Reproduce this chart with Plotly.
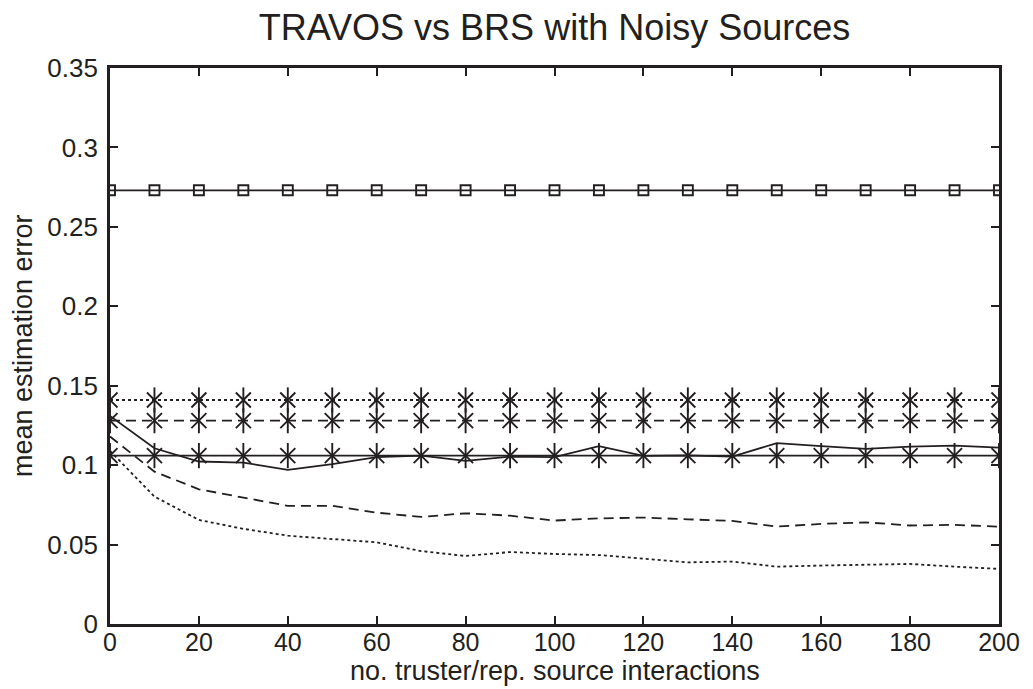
import plotly.graph_objects as go

x_vals = [0, 10, 20, 30, 40, 50, 60, 70, 80, 90, 100, 110, 120, 130, 140, 150, 160, 170, 180, 190, 200]

brs_all = [0.273, 0.273, 0.273, 0.273, 0.273, 0.273, 0.273, 0.273, 0.273, 0.273, 0.273,
           0.273, 0.273, 0.273, 0.273, 0.273, 0.273, 0.273, 0.273, 0.273, 0.273]
brs_dotted = [0.141, 0.141, 0.141, 0.141, 0.141, 0.141, 0.141, 0.141, 0.141, 0.141, 0.141,
              0.141, 0.141, 0.141, 0.141, 0.141, 0.141, 0.141, 0.141, 0.141, 0.141]
brs_dashed = [0.128, 0.128, 0.128, 0.128, 0.128, 0.128, 0.128, 0.128, 0.128, 0.128, 0.128,
              0.128, 0.128, 0.128, 0.128, 0.128, 0.128, 0.128, 0.128, 0.128, 0.128]
brs_solid = [0.106, 0.106, 0.106, 0.106, 0.106, 0.106, 0.106, 0.106, 0.106, 0.106, 0.106,
             0.106, 0.106, 0.106, 0.106, 0.106, 0.106, 0.106, 0.106, 0.106, 0.106]

travos_solid = [0.131, 0.1106, 0.1023, 0.1016, 0.0970, 0.1006, 0.1050, 0.1060, 0.1027, 0.1054, 0.1050,
                0.1120, 0.1058, 0.1062, 0.1054, 0.1138, 0.1120, 0.1102, 0.1116, 0.1123, 0.1110]
travos_dashed = [0.118, 0.0959, 0.0848, 0.0798, 0.0744, 0.0744, 0.0701, 0.0674, 0.0697, 0.0682, 0.0651,
                 0.0665, 0.0670, 0.0659, 0.0649, 0.0613, 0.0630, 0.0640, 0.0620, 0.0624, 0.0613]
travos_dotted = [0.109, 0.0802, 0.0655, 0.0599, 0.0556, 0.0533, 0.0514, 0.0459, 0.0428, 0.0453, 0.0441,
                 0.0434, 0.0413, 0.0388, 0.0393, 0.0361, 0.0368, 0.0372, 0.0378, 0.0361, 0.0347]

y_ticks = [0, 0.05, 0.1, 0.15, 0.2, 0.25, 0.3, 0.35]
y_tick_text = ["0", "0.05", "0.1", "0.15", "0.2", "0.25", "0.3", "0.35"]
x_ticks = [0, 20, 40, 60, 80, 100, 120, 140, 160, 180, 200]

title_text = "TRAVOS vs BRS with Noisy Sources"
x_title = "no. truster/rep. source interactions"
y_title = "mean estimation error"

C = "#231f20"
LW = 1.8

fig = go.Figure()

def star_series(y, dash):
    fig.add_trace(go.Scatter(x=x_vals, y=y, mode="lines", line=dict(color=C, width=LW, dash=dash),
                             showlegend=False, hoverinfo="skip"))
    fig.add_trace(go.Scatter(x=x_vals, y=y, mode="markers",
                             marker=dict(symbol="x-thin-open", size=15, color=C, line=dict(color=C, width=1.9)),
                             showlegend=False, hoverinfo="skip"))
    fig.add_trace(go.Scatter(x=x_vals, y=y, mode="markers",
                             marker=dict(symbol="line-ns-open", size=18, color=C, line=dict(color=C, width=1.9)),
                             showlegend=False, hoverinfo="skip"))

fig.add_trace(go.Scatter(x=x_vals, y=brs_all, mode="lines+markers",
                         line=dict(color=C, width=LW),
                         marker=dict(symbol="square-open", size=10, color=C, line=dict(color=C, width=1.9)),
                         showlegend=False, hoverinfo="skip"))
star_series(brs_dotted, "3px,3px")
star_series(brs_dashed, "10px,6px")
star_series(brs_solid, "solid")

fig.add_trace(go.Scatter(x=x_vals, y=travos_solid, mode="lines", line=dict(color=C, width=LW),
                         showlegend=False, hoverinfo="skip"))
fig.add_trace(go.Scatter(x=x_vals, y=travos_dashed, mode="lines", line=dict(color=C, width=LW, dash="10px,6px"),
                         showlegend=False, hoverinfo="skip"))
fig.add_trace(go.Scatter(x=x_vals, y=travos_dotted, mode="lines", line=dict(color=C, width=LW, dash="3px,3px"),
                         showlegend=False, hoverinfo="skip"))

FONT = "Liberation Sans, Arial, Helvetica, sans-serif"

# page body has an 8px margin: figure spans x 8..1033, y 8..689
W, H = 1025, 681
ML, MR, MT, MB = 102, 34, 60, 65
PW = W - ML - MR
PH = H - MT - MB

fig.update_layout(
    width=W, height=H,
    margin=dict(l=ML, r=MR, t=MT, b=MB),
    paper_bgcolor="white", plot_bgcolor="white",
    font=dict(family=FONT, color=C),
    title=dict(text=title_text, x=0.5, xanchor="center", xref="paper",
               yref="container", y=1 - 19 / H, yanchor="middle", font=dict(size=36, family=FONT, color=C)),
    annotations=[
        dict(text=x_title, xref="paper", yref="paper", x=0.5, y=-47 / PH, xanchor="center", yanchor="middle",
             showarrow=False, font=dict(size=27, family=FONT, color=C)),
        dict(text=y_title, xref="paper", yref="paper", x=-87 / PW, y=0.5, xanchor="center", yanchor="middle",
             textangle=-90, showarrow=False, font=dict(size=27, family=FONT, color=C)),
    ],
)
fig.update_xaxes(range=[0, 200], tickvals=x_ticks, ticks="inside", ticklen=8, tickwidth=1.5,
                 showline=True, linewidth=2.8, linecolor=C, mirror="ticks", showgrid=False, zeroline=False,
                 tickfont=dict(size=25, color=C), tickcolor=C, automargin=False, ticklabelstandoff=-6)
fig.update_yaxes(range=[0, 0.35], tickvals=y_ticks, ticktext=y_tick_text, ticks="inside", ticklen=8,
                 tickwidth=1.5, showline=True, linewidth=2.8, linecolor=C, mirror="ticks", showgrid=False,
                 zeroline=False, tickfont=dict(size=26, color=C), tickcolor=C, automargin=False,
                 ticklabelstandoff=4)

fig.write_html("out.html")
